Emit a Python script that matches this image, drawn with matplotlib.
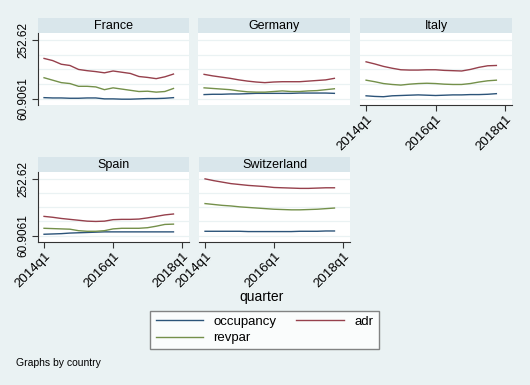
import numpy as np
import matplotlib
matplotlib.use("Agg")
import matplotlib.pyplot as plt
from matplotlib.lines import Line2D

plt.rcParams["font.family"] = ["Liberation Sans", "DejaVu Sans"]

# quarters 2014q1 .. 2017q4
quarters = list(range(16))
tick_pos = [0, 8, 16]
tick_labels = ["2014q1", "2016q1", "2018q1"]
y_min_label = 60.9061
y_max_label = 252.62

countries = ["France", "Germany", "Italy", "Spain", "Switzerland"]

occupancy = {
    "France": [64, 63, 63, 62, 62, 63, 63, 60, 60, 59, 59, 60, 61, 61, 62, 64],
    "Germany": [74, 75, 75, 76, 76, 77, 78, 78, 78, 78, 78, 79, 79, 79, 79, 78],
    "Italy": [70, 68, 67, 70, 71, 72, 73, 72, 71, 72, 73, 73, 74, 74, 75, 77],
    "Spain": [66, 67, 68, 70, 71, 72, 73, 74, 74, 74, 74, 74, 74, 74, 74, 74],
    "Switzerland": [76, 76, 76, 76, 76, 75, 75, 75, 75, 75, 75, 76, 76, 76, 77, 77],
}
adr = {
    "France": [192, 185, 173, 169, 156, 152, 149, 145, 151, 147, 143, 133, 130, 126, 132, 141],
    "Germany": [140, 135, 131, 127, 122, 118, 115, 113, 115, 116, 116, 116, 118, 120, 122, 127],
    "Italy": [181, 174, 166, 160, 155, 154, 154, 155, 155, 153, 152, 151, 156, 163, 168, 169],
    "Spain": [126, 123, 119, 116, 113, 110, 109, 110, 115, 116, 116, 117, 121, 126, 131, 134],
    "Switzerland": [252, 246, 241, 236, 233, 230, 228, 226, 223, 222, 221, 220, 220, 221, 222, 222],
}
revpar = {
    "France": [129, 121, 113, 110, 101, 101, 99, 90, 96, 92, 88, 84, 85, 82, 84, 94],
    "Germany": [96, 94, 92, 90, 86, 83, 82, 82, 84, 86, 84, 84, 86, 87, 90, 93],
    "Italy": [121, 116, 110, 107, 105, 108, 110, 111, 110, 108, 107, 107, 110, 115, 119, 121],
    "Spain": [86, 85, 84, 83, 78, 76, 76, 78, 84, 86, 86, 86, 88, 93, 99, 100],
    "Switzerland": [169, 166, 163, 161, 158, 156, 154, 152, 150, 149, 148, 148, 149, 150, 152, 154],
}

C_OCC = "#2c5479"
C_ADR = "#96404c"
C_REV = "#74904a"
BG = "#eaf2f3"
STRIP = "#d9e6eb"
AXC = "#333333"

W, H = 530, 385
fig = plt.figure(figsize=(W / 100, H / 100), dpi=100, facecolor=BG)


def px_axes(x0, y0, x1, y1):
    return fig.add_axes([x0 / W, 1 - y1 / H, (x1 - x0) / W, (y1 - y0) / H])


# (x0, x1, strip top, plot top, plot bottom, show y axis, show x axis)
layout = {
    "France": (38, 189, 18, 33, 105, True, False),
    "Germany": (198, 350, 18, 33, 105, False, False),
    "Italy": (360, 512, 18, 33, 105, False, True),
    "Spain": (38, 189, 157, 172, 242, True, True),
    "Switzerland": (199, 350, 157, 172, 242, False, True),
}

for c in countries:
    x0, x1, st, pt, pb, showy, showx = layout[c]

    strip = px_axes(x0, st, x1, pt)
    strip.set_facecolor(STRIP)
    strip.set_xticks([])
    strip.set_yticks([])
    for s in strip.spines.values():
        s.set_visible(False)
    strip.text(0.5, 0.45, c, ha="center", va="center", fontsize=9, transform=strip.transAxes)

    ax = px_axes(x0, pt, x1, pb)
    ax.set_facecolor("white")
    for lvl in np.linspace(y_min_label, y_max_label, 5):
        ax.axhline(lvl, color=BG, lw=0.9, zorder=0)
    ax.plot(quarters, occupancy[c], color=C_OCC, lw=1)
    ax.plot(quarters, adr[c], color=C_ADR, lw=1)
    ax.plot(quarters, revpar[c], color=C_REV, lw=1)
    ax.set_xlim(-0.7, 16.8)
    ax.set_ylim(40, 275)

    for s in ["top", "right"]:
        ax.spines[s].set_visible(False)

    if showy:
        ax.spines["left"].set_color(AXC)
        ax.spines["left"].set_linewidth(0.8)
        ax.set_yticks([y_min_label, y_max_label])
        ax.set_yticklabels(["60.9061", "252.62"], rotation=90, va="center", fontsize=8.5)
        ax.tick_params(axis="y", length=4, width=0.8, color=AXC, pad=2)
    else:
        ax.spines["left"].set_visible(False)
        ax.set_yticks([])

    if showx:
        ax.spines["bottom"].set_color(AXC)
        ax.spines["bottom"].set_linewidth(0.8)
        ax.set_xticks(tick_pos)
        ax.set_xticklabels(tick_labels, rotation=45, ha="right", rotation_mode="anchor", fontsize=9.5)
        ax.tick_params(axis="x", length=4, width=0.8, color=AXC, pad=2)
    else:
        ax.spines["bottom"].set_visible(False)
        ax.set_xticks([])

fig.text(262 / W, 1 - 297 / H, "quarter", ha="center", va="center", fontsize=10)

handles = [
    Line2D([], [], color=C_OCC, lw=1),
    Line2D([], [], color=C_REV, lw=1),
    Line2D([], [], color=C_ADR, lw=1),
]
names = ["occupancy", "revpar", "adr"]
leg = fig.legend(handles, names, ncol=2, loc="center",
                 bbox_to_anchor=((148 + 381) / 2 / W, 1 - (309 + 351) / 2 / H),
                 fontsize=9.5, handlelength=3.6, columnspacing=1.5, labelspacing=0.3,
                 fancybox=False, frameon=True, borderpad=0.4)
leg.get_frame().set_edgecolor("#666666")
leg.get_frame().set_linewidth(1)
leg.get_frame().set_facecolor("white")

fig.text(16 / W, 1 - 363 / H, "Graphs by country", ha="left", va="center", fontsize=7.5)

fig.savefig("out.png", dpi=100, facecolor=BG)
